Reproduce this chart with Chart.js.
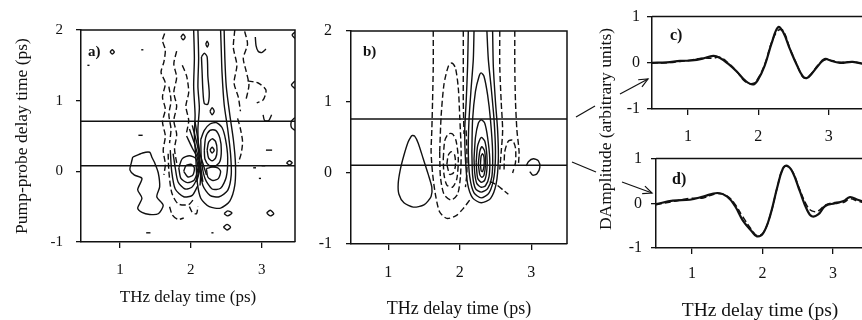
<!DOCTYPE html>
<html>
<head>
<meta charset="utf-8">
<script src="https://cdn.jsdelivr.net/npm/chart.js@4.4.0/dist/chart.umd.min.js"></script>
<style>
  html, body { margin: 0; padding: 0; background: #fff; width: 862px; height: 320px; overflow: hidden; }
  .panel { position: absolute; }
  #ampTitle {
    position: absolute; left: 605px; top: 129px; white-space: nowrap;
    font-family: "Liberation Serif", serif; font-size: 17.5px; color: #111;
    transform: translate(-50%, -50%) rotate(-90deg);
  }
  #marks { position: absolute; left: 0; top: 0; pointer-events: none; }
</style>
</head>
<body>
<div class="panel" style="left:0;top:0;width:300px;height:320px"><canvas id="chartA"></canvas></div>
<div class="panel" style="left:290px;top:0;width:282px;height:320px"><canvas id="chartB"></canvas></div>
<div class="panel" style="left:560px;top:140px;width:304px;height:180px"><canvas id="chartD"></canvas></div>
<div class="panel" style="left:560px;top:0;width:304px;height:152px"><canvas id="chartC"></canvas></div>
<div id="ampTitle">DAmplitude (arbitrary units)</div>
<svg id="marks" width="862" height="320">
  <defs>
    <marker id="head" markerWidth="12" markerHeight="12" refX="10" refY="6" orient="auto" markerUnits="userSpaceOnUse">
      <path d="M1,2 L10,6 L1,10" fill="none" stroke="#111" stroke-width="1.2"/>
    </marker>
  </defs>
  <line x1="576" y1="117" x2="595" y2="106" stroke="#111" stroke-width="1.2"/>
  <line x1="572" y1="162" x2="596" y2="172" stroke="#111" stroke-width="1.2"/>
  <line x1="620" y1="94" x2="648" y2="79" stroke="#111" stroke-width="1.2" marker-end="url(#head)"/>
  <line x1="622" y1="182" x2="652" y2="193" stroke="#111" stroke-width="1.2" marker-end="url(#head)"/>
</svg>
<script>
// tick values
const thzTicks = [1, 2, 3];
const delayTicks = [-1, 0, 1, 2];
const ampTicks = [-1, 0, 1];

// pump-probe delays of the two cuts shown in c) and d)
const cutsA = [0.08, 0.71];
const cutsB = [0.11, 0.76];

// a) measured contours, [THz delay, pump-probe delay]
const aPositive = [
  [[1.18,0.2],[1.32,0.26],[1.42,0.27],[1.45,0.2],[1.49,0.12],[1.54,-0.02],[1.56,-0.22],[1.52,-0.36],[1.61,-0.48],[1.54,-0.6],[1.42,-0.61],[1.31,-0.58],[1.25,-0.52],[1.31,-0.38],[1.25,-0.26],[1.31,-0.1],[1.2,-0.05],[1.14,0.02],[1.16,0.12],[1.18,0.2]],
  [[2.27,0.3],[2.3,0.34],[2.33,0.3],[2.3,0.26],[2.27,0.3]],
  [[2.23,0.3],[2.25,0.41],[2.3,0.46],[2.35,0.42],[2.37,0.3],[2.35,0.19],[2.3,0.15],[2.25,0.19],[2.23,0.3]],
  [[2.19,0.3],[2.21,0.48],[2.27,0.58],[2.35,0.58],[2.41,0.47],[2.43,0.3],[2.41,0.14],[2.34,0.07],[2.26,0.08],[2.2,0.17],[2.19,0.3]],
  [[2.14,0.45],[2.15,0.15],[2.2,-0.1],[2.3,-0.25],[2.42,-0.24],[2.5,-0.08],[2.52,0.2],[2.49,0.45],[2.44,0.62],[2.36,0.69],[2.27,0.67],[2.19,0.58],[2.14,0.45]],
  [[2.22,0.04],[2.24,-0.08],[2.31,-0.13],[2.39,-0.1],[2.42,0.0],[2.38,0.05],[2.3,0.06],[2.22,0.04]],
  [[2.1,2.0],[2.11,1.6],[2.1,1.2],[2.12,0.9],[2.1,0.6],[2.11,0.3],[2.13,0.05],[2.17,-0.2],[2.27,-0.34],[2.4,-0.36],[2.52,-0.27],[2.57,-0.05],[2.56,0.25],[2.52,0.6],[2.47,0.95],[2.44,1.4],[2.43,1.7],[2.42,2.0]],
  [[2.04,2.0],[2.05,1.6],[2.04,1.2],[2.06,0.8],[2.05,0.5],[2.07,0.2],[2.09,-0.15],[2.14,-0.38],[2.26,-0.5],[2.42,-0.52],[2.55,-0.42],[2.62,-0.2],[2.63,0.1],[2.6,0.45],[2.55,0.8],[2.5,1.2],[2.48,1.6],[2.47,2.0]],
  [[2.15,1.62],[2.19,1.67],[2.23,1.62],[2.24,1.35],[2.26,1.1],[2.24,0.95],[2.19,0.96],[2.17,1.15],[2.16,1.38],[2.15,1.62]],
  [[2.27,0.85],[2.3,0.9],[2.33,0.85],[2.3,0.8],[2.27,0.85]],
  [[1.86,1.9],[1.89,1.94],[1.92,1.9],[1.89,1.86],[1.86,1.9]],
  [[2.21,1.8],[2.23,1.84],[2.25,1.8],[2.23,1.76],[2.21,1.8]],
  [[0.86,1.69],[0.89,1.72],[0.92,1.69],[0.89,1.66],[0.86,1.69]],
  [[2.47,-0.6],[2.52,-0.56],[2.58,-0.59],[2.52,-0.63],[2.47,-0.6]],
  [[2.46,-0.79],[2.51,-0.75],[2.56,-0.79],[2.51,-0.83],[2.46,-0.79]],
  [[3.07,-0.59],[3.12,-0.55],[3.17,-0.6],[3.12,-0.63],[3.07,-0.59]],
  [[2.91,1.9],[2.92,1.78],[2.95,1.7],[3.0,1.68],[3.06,1.73]],
  [[3.47,1.97],[3.43,1.93],[3.47,1.88]],
  [[3.47,1.28],[3.42,1.22],[3.47,1.17]],
  [[3.47,0.76],[3.42,0.71],[3.42,0.62],[3.47,0.58]],
  [[3.35,0.12],[3.39,0.15],[3.43,0.12],[3.39,0.09],[3.35,0.12]],
  [[3.02,0.8],[3.04,0.72],[3.1,0.72],[3.14,0.8]],
  [[1.98,0.6],[2.05,0.4],[2.1,0.22],[2.14,0.05],[2.17,-0.15]],
  [[2.02,0.65],[2.08,0.42],[2.12,0.22],[2.14,0.0],[2.13,-0.2]],
  [[1.94,0.5],[2.02,0.33],[2.09,0.2],[2.12,0.0],[2.08,-0.15]],
  [[2.06,0.7],[2.1,0.45],[2.13,0.25],[2.18,0.08],[2.22,-0.05]],
  [[1.9,0.0],[1.93,0.08],[2.0,0.1],[2.05,0.05],[2.03,-0.05],[1.96,-0.08],[1.9,0.0]],
  [[1.83,0.05],[1.88,0.18],[1.98,0.22],[2.07,0.18],[2.1,0.05],[2.05,-0.12],[1.95,-0.16],[1.86,-0.1],[1.83,0.05]],
  [[1.75,0.25],[1.78,0.05],[1.82,-0.15],[1.92,-0.25],[2.02,-0.22],[2.1,-0.05],[2.12,0.15]],
  [[1.71,0.3],[1.73,0.0],[1.78,-0.25],[1.9,-0.36],[2.02,-0.34],[2.1,-0.2]]
];
const aNegative = [
  [[1.63,1.95],[1.6,1.85],[1.64,1.72],[1.62,1.55],[1.58,1.4],[1.64,1.25],[1.6,1.05],[1.64,0.88],[1.6,0.7],[1.64,0.5],[1.61,0.3],[1.64,0.1],[1.62,-0.05]],
  [[1.8,1.7],[1.76,1.52],[1.8,1.33],[1.76,1.12],[1.8,0.92],[1.76,0.72],[1.8,0.52],[1.77,0.32],[1.8,0.12]],
  [[1.88,1.5],[1.94,1.35],[1.97,1.12],[1.93,0.92],[1.97,0.72],[1.94,0.55]],
  [[1.69,1.2],[1.72,1.0],[1.69,0.8],[1.72,0.6],[1.7,0.4]],
  [[1.68,0.25],[1.69,0.0],[1.73,-0.3],[1.82,-0.46],[1.97,-0.47],[2.05,-0.38]],
  [[1.7,-0.5],[1.74,-0.62],[1.82,-0.68],[1.9,-0.66]],
  [[1.98,-0.5],[2.02,-0.58],[2.08,-0.6],[2.1,-0.5]],
  [[2.66,0.75],[2.7,0.6],[2.73,0.42],[2.71,0.25],[2.67,0.12]],
  [[2.62,2.0],[2.6,1.75],[2.65,1.5],[2.61,1.25],[2.67,1.05],[2.7,0.85]],
  [[2.76,1.98],[2.8,1.8],[2.74,1.6],[2.78,1.42],[2.82,1.22],[2.78,1.02]],
  [[2.8,1.28],[2.95,1.25],[3.06,1.15],[3.02,1.01],[2.93,0.97]],
  [[1.3,1.72],[1.33,1.72]], [[0.54,1.5],[0.57,1.5]], [[1.26,0.51],[1.32,0.51]],
  [[3.06,0.3],[3.16,0.3]], [[2.96,-0.1],[2.99,-0.1]], [[1.37,-0.87],[1.43,-0.87]],
  [[2.29,-0.87],[2.32,-0.87]], [[2.88,0.05],[2.92,0.05]], [[3.0,0.08],[3.05,0.08]]
];

// b) simulated contours
const bPositive = [
  [[1.33,0.53],[1.28,0.44],[1.22,0.25],[1.17,0.05],[1.14,-0.15],[1.15,-0.3],[1.22,-0.42],[1.35,-0.48],[1.5,-0.45],[1.6,-0.33],[1.61,-0.2],[1.56,-0.02],[1.49,0.2],[1.42,0.42],[1.37,0.52],[1.33,0.53]],
  [[2.12,2.0],[2.11,1.5],[2.09,1.0],[2.07,0.6],[2.08,0.2],[2.11,-0.15],[2.18,-0.35],[2.3,-0.42],[2.43,-0.36],[2.51,-0.15],[2.54,0.2],[2.53,0.6],[2.5,1.0],[2.47,1.5],[2.46,2.0]],
  [[2.2,2.0],[2.19,1.6],[2.16,1.2],[2.13,0.75],[2.12,0.3],[2.14,-0.05],[2.2,-0.28],[2.3,-0.35],[2.41,-0.28],[2.48,-0.05],[2.5,0.3],[2.48,0.75],[2.44,1.2],[2.4,1.6],[2.38,2.0]],
  [[2.17,0.3],[2.18,0.75],[2.22,1.15],[2.27,1.36],[2.3,1.41],[2.34,1.36],[2.39,1.1],[2.43,0.75],[2.46,0.3],[2.45,-0.05],[2.39,-0.22],[2.3,-0.27],[2.22,-0.22],[2.18,-0.03],[2.17,0.3]],
  [[2.2,0.2],[2.22,0.5],[2.26,0.7],[2.3,0.75],[2.35,0.7],[2.39,0.5],[2.42,0.2],[2.41,-0.05],[2.36,-0.18],[2.3,-0.2],[2.24,-0.15],[2.21,0.0],[2.2,0.2]],
  [[2.23,0.15],[2.25,0.38],[2.3,0.5],[2.35,0.45],[2.38,0.25],[2.38,0.05],[2.35,-0.1],[2.3,-0.13],[2.25,-0.07],[2.23,0.15]],
  [[2.26,0.13],[2.28,0.3],[2.31,0.37],[2.35,0.3],[2.36,0.13],[2.34,-0.03],[2.31,-0.06],[2.28,-0.02],[2.26,0.13]],
  [[2.29,0.13],[2.3,0.24],[2.32,0.27],[2.34,0.22],[2.34,0.1],[2.32,0.02],[2.3,0.03],[2.29,0.13]],
  [[2.93,0.1],[2.96,0.16],[3.03,0.2],[3.1,0.17],[3.12,0.08],[3.08,-0.01],[3.02,-0.03],[2.98,0.02]]
];
const bNegative = [
  [[1.63,2.0],[1.63,1.5],[1.62,1.0],[1.61,0.6],[1.6,0.3],[1.62,0.0],[1.66,-0.3],[1.72,-0.55],[1.82,-0.64],[1.95,-0.6],[2.05,-0.5],[2.14,-0.38]],
  [[1.72,0.3],[1.74,0.8],[1.78,1.25],[1.84,1.5],[1.89,1.55],[1.94,1.48],[1.98,1.2],[2.0,0.8],[2.02,0.3],[2.01,-0.05],[1.97,-0.3],[1.88,-0.38],[1.78,-0.3],[1.73,-0.05],[1.72,0.3]],
  [[1.77,0.2],[1.79,0.45],[1.84,0.55],[1.9,0.55],[1.95,0.45],[1.98,0.2],[1.96,-0.08],[1.9,-0.2],[1.82,-0.17],[1.78,-0.02],[1.77,0.2]],
  [[1.82,0.12],[1.84,0.25],[1.88,0.3],[1.93,0.25],[1.94,0.1],[1.91,0.0],[1.86,-0.02],[1.82,0.12]],
  [[2.05,2.0],[2.05,1.5],[2.05,1.0],[2.06,0.55]],
  [[2.09,0.6],[2.1,0.3],[2.1,0.0],[2.08,-0.2]],
  [[2.77,2.0],[2.77,1.5],[2.78,1.0],[2.8,0.6],[2.83,0.3],[2.82,0.1]],
  [[2.42,-0.12],[2.52,-0.17],[2.62,-0.25],[2.68,-0.3]],
  [[2.62,0.05],[2.63,0.3],[2.68,0.45],[2.74,0.46],[2.78,0.35],[2.78,0.15],[2.74,0.0]],
  [[2.56,2.0],[2.56,1.5],[2.58,1.0],[2.6,0.6],[2.58,0.3],[2.56,0.05]]
];

// c) and d) cuts: THz delay and amplitude, measured (solid) and simulated (dashed)
const thzC = [0.49,0.7,0.89,1.05,1.21,1.36,1.45,1.57,1.7,1.81,1.92,1.99,2.09,2.19,2.28,2.35,2.45,2.55,2.63,2.69,2.76,2.85,2.94,3.04,3.16,3.34,3.5];
const ampCMeas = [0,0.01,0.04,0.05,0.09,0.15,0.11,-0.02,-0.2,-0.38,-0.47,-0.38,-0.06,0.43,0.77,0.67,0.29,-0.06,-0.29,-0.33,-0.23,-0.06,0.08,0.04,0.0,0.02,-0.03];
const ampCSim = [0,0.0,0.03,0.06,0.1,0.1,0.12,0.0,-0.2,-0.4,-0.45,-0.35,-0.04,0.45,0.7,0.7,0.3,-0.05,-0.3,-0.32,-0.22,-0.05,0.06,0.05,0.01,0.02,-0.02];
const thzD = [0.49,0.73,0.97,1.16,1.36,1.5,1.61,1.72,1.85,1.92,2.01,2.11,2.21,2.29,2.35,2.43,2.53,2.63,2.7,2.79,2.89,3.03,3.15,3.24,3.35,3.5];
const ampDMeas = [-0.02,0.06,0.08,0.15,0.23,0.15,-0.06,-0.38,-0.63,-0.74,-0.67,-0.27,0.36,0.78,0.84,0.69,0.27,-0.14,-0.29,-0.25,-0.06,0.0,0.05,0.14,0.08,0.0];
const ampDSim = [-0.03,0.04,0.11,0.12,0.22,0.16,-0.02,-0.3,-0.6,-0.72,-0.66,-0.27,0.36,0.78,0.83,0.7,0.3,-0.05,-0.17,-0.17,-0.04,0.02,0.02,0.1,0.05,-0.02];

const serif = '"Liberation Serif", "DejaVu Serif", serif';
const ink = '#111';

// draws the top/right sides of the box and the panel letter
const framePlugin = {
  id: 'frame',
  afterDatasetsDraw(chart, args, opts) {
    const { ctx, chartArea: a } = chart;
    ctx.save();
    ctx.strokeStyle = ink;
    ctx.lineWidth = 1.5;
    ctx.beginPath();
    ctx.moveTo(a.left, a.top);
    ctx.lineTo(a.right, a.top);
    ctx.lineTo(a.right, a.bottom);
    ctx.stroke();
    ctx.fillStyle = ink;
    ctx.font = 'bold ' + opts.size + 'px ' + serif;
    ctx.textBaseline = 'alphabetic';
    ctx.fillText(opts.label, a.left + opts.dx, a.top + opts.dy);
    ctx.restore();
  }
};

function contourSets(lines, dashed) {
  return lines.map(pts => ({
    data: pts.map(p => ({ x: p[0], y: p[1] })),
    showLine: true, pointRadius: 0, borderColor: ink, borderWidth: 1.4,
    borderDash: dashed ? [6, 3] : [], tension: 0.25
  }));
}

function cutSets(cuts, min, max) {
  return cuts.map(v => ({
    data: [{ x: min, y: v }, { x: max, y: v }],
    showLine: true, pointRadius: 0, borderColor: ink, borderWidth: 1.5, tension: 0
  }));
}

function curveSet(xs, ys, dashed) {
  return {
    data: xs.map((x, i) => ({ x: x, y: ys[i] })),
    showLine: true, pointRadius: 0, borderColor: ink,
    borderWidth: dashed ? 1.5 : 2.2, borderDash: dashed ? [6, 3] : [], tension: 0.4
  };
}

function xAxis(o) {
  return {
    type: 'linear', min: o.min, max: o.max,
    afterBuildTicks: s => { s.ticks = thzTicks.map(v => ({ value: v })); },
    afterFit: s => { s.height = o.height; },
    grid: { drawOnChartArea: false, drawTicks: true, tickLength: 6, color: ink, lineWidth: 1.3 },
    border: { display: true, color: ink, width: 1.5 },
    ticks: { color: ink, font: { family: serif, size: o.tickSize }, padding: o.tickPad, maxRotation: 0, autoSkip: false },
    title: {
      display: o.title, text: 'THz delay time (ps)', color: ink,
      font: { family: serif, size: o.titleSize }, padding: { top: 0, bottom: o.titlePad }
    }
  };
}

function yAxis(o) {
  return {
    type: 'linear', min: o.ticks[0], max: o.ticks[o.ticks.length - 1],
    afterBuildTicks: s => { s.ticks = o.ticks.map(v => ({ value: v })); },
    afterFit: s => { s.width = o.width; },
    grid: { drawOnChartArea: false, drawTicks: true, tickLength: 5, color: ink, lineWidth: 1.3 },
    border: { display: true, color: ink, width: 1.5 },
    ticks: { color: ink, font: { family: serif, size: o.tickSize }, padding: o.tickPad, autoSkip: false },
    title: {
      display: !!o.title, text: o.title || '', color: ink,
      font: { family: serif, size: 17.5 }, padding: { top: o.titlePad || 0, bottom: 0 }
    }
  };
}

function makeChart(id, datasets, cfg) {
  return new Chart(document.getElementById(id), {
    type: 'scatter',
    data: { datasets: datasets },
    options: {
      responsive: true, maintainAspectRatio: false, animation: false,
      layout: { padding: cfg.padding },
      plugins: { legend: { display: false }, tooltip: { enabled: false }, frame: cfg.frame },
      scales: { x: xAxis(cfg.x), y: yAxis(cfg.y) }
    },
    plugins: [framePlugin]
  });
}

makeChart('chartA',
  contourSets(aPositive, false).concat(contourSets(aNegative, true), cutSets(cutsA, 0.45, 3.47)), {
  padding: { top: 30, right: 5 },
  frame: { label: 'a)', dx: 7, dy: 26, size: 15 },
  x: { min: 0.45, max: 3.47, height: 78, tickSize: 15, tickPad: 13, title: true, titleSize: 17, titlePad: 12 },
  y: { ticks: delayTicks, width: 81, tickSize: 15, tickPad: 13, title: 'Pump-probe delay time (ps)', titlePad: 12 }
});

makeChart('chartB',
  contourSets(bPositive, false).concat(contourSets(bNegative, true), cutSets(cutsB, 0.48, 3.5)), {
  padding: { top: 31, right: 5 },
  frame: { label: 'b)', dx: 12, dy: 25, size: 15 },
  x: { min: 0.48, max: 3.5, height: 76, tickSize: 16, tickPad: 13, title: true, titleSize: 18, titlePad: 0 },
  y: { ticks: delayTicks, width: 61, tickSize: 16, tickPad: 14 }
});

makeChart('chartC', [curveSet(thzC, ampCMeas, false), curveSet(thzC, ampCSim, true)], {
  padding: { top: 14, right: 0 },
  frame: { label: 'c)', dx: 18, dy: 23, size: 16 },
  x: { min: 0.49, max: 3.5, height: 43, tickSize: 16, tickPad: 12, title: false, titleSize: 18, titlePad: 0 },
  y: { ticks: ampTicks, width: 92, tickSize: 16, tickPad: 7 }
});

makeChart('chartD', [curveSet(thzD, ampDMeas, false), curveSet(thzD, ampDSim, true)], {
  padding: { top: 13, right: 0 },
  frame: { label: 'd)', dx: 16, dy: 25, size: 16 },
  x: { min: 0.49, max: 3.44, height: 72, tickSize: 16, tickPad: 10, title: true, titleSize: 19.5, titlePad: -3 },
  y: { ticks: ampTicks, width: 96, tickSize: 16, tickPad: 9 }
});
</script>
</body>
</html>
